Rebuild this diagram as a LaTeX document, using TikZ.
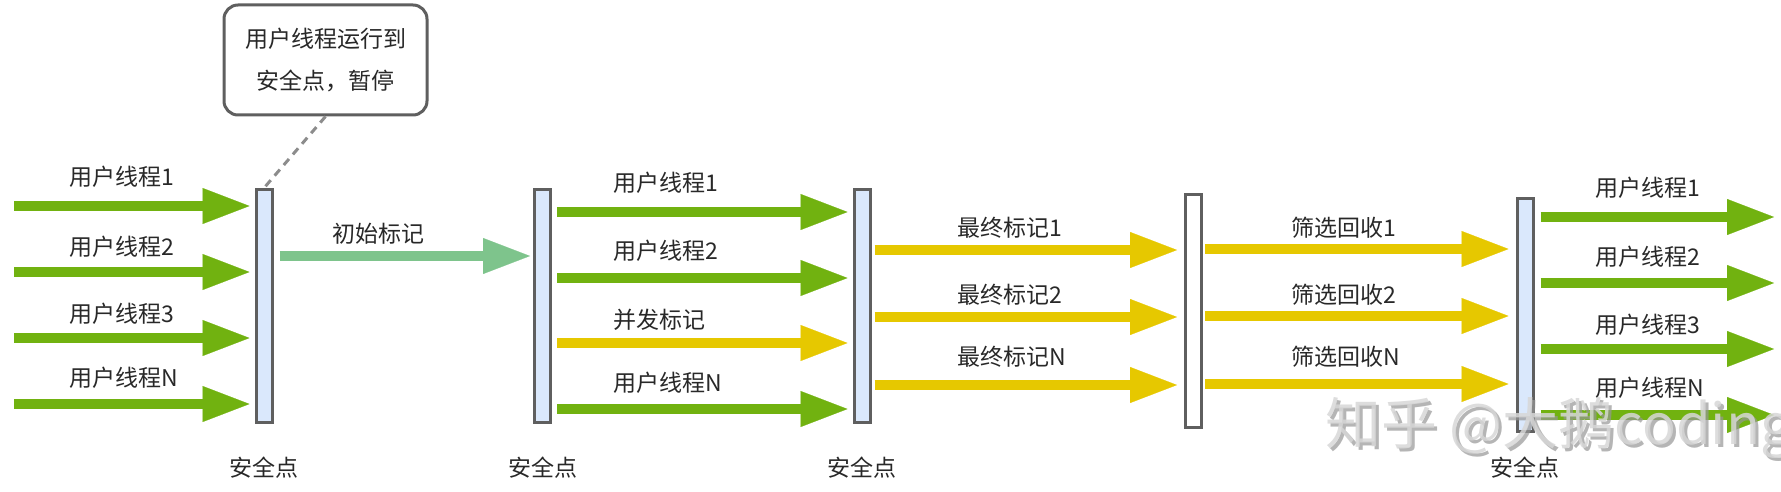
\documentclass[tikz,border=0pt]{standalone}
\usepackage{fontspec}
\setmainfont{Noto Sans CJK SC}
\usetikzlibrary{arrows.meta}
\definecolor{tgreen}{RGB}{113,178,16}
\definecolor{tlgreen}{RGB}{126,196,140}
\definecolor{tyellow}{RGB}{230,200,0}
\definecolor{barfill}{RGB}{218,232,252}
\definecolor{barborder}{RGB}{95,95,95}
\definecolor{txt}{RGB}{40,40,40}
\definecolor{dashgray}{RGB}{140,140,140}
\definecolor{wmshadow}{RGB}{150,150,150}
\definecolor{wmfill}{RGB}{215,215,215}
\begin{document}
\begin{tikzpicture}[x=0.5pt,y=-0.5pt,
  bar/.style={draw=barborder,line width=1.5pt,fill=barfill,minimum width=8pt,minimum height=116.5pt,inner sep=0pt},
  whitebar/.style={bar,fill=white},
  lbl/.style={text=txt,font=\fontsize{11.5}{13}\selectfont,inner sep=0pt},
  fat/.style={line width=5pt,-{Triangle[length=23.5pt,width=18pt,line width=0.1pt]}},
  garrow/.style={fat,draw=tgreen},
  lgarrow/.style={fat,draw=tlgreen},
  yarrow/.style={fat,draw=tyellow},
  callout/.style={draw=barborder,line width=1.5pt,fill=white,rounded corners=7pt,minimum width=101.5pt,minimum height=55pt,inner sep=0pt,align=center,text=txt,font=\fontsize{11.5}{21}\selectfont},
  wm/.style={anchor=west,inner sep=0pt,font=\fontsize{28}{30}\selectfont}
]
\useasboundingbox (0,0) rectangle (1781,492);

% bars
\node[bar] (b1) at (264,306) {};
\node[bar] (b2) at (542.5,306) {};
\node[bar] (b3) at (862,306) {};
\node[whitebar] (b4) at (1193.5,311) {};
\node[bar] (b5) at (1525,314.5) {};

% callout
\node[callout] (co) at (325.5,60) {用户线程运行到\\安全点，暂停};
\draw[dashgray,line width=1.5pt,dash pattern=on 4pt off 3pt] (co.south) -- (b1.north);

% left group
\coordinate (l1) at (14,206);
\coordinate (l2) at (14,272);
\coordinate (l3) at (14,338);
\coordinate (l4) at (14,404);
\draw[garrow,shorten >=2.5pt] (l1) -- (b1.west |- l1);
\draw[garrow,shorten >=2.5pt] (l2) -- (b1.west |- l2);
\draw[garrow,shorten >=2.5pt] (l3) -- (b1.west |- l3);
\draw[garrow,shorten >=2.5pt] (l4) -- (b1.west |- l4);
\node[lbl,anchor=west] (tl1) at (69,177) {用户线程1};
\node[lbl,anchor=west] (tl2) at (69,247) {用户线程2};
\node[lbl,anchor=west] (tl3) at (69,314) {用户线程3};
\node[lbl,anchor=west] (tl4) at (69,378) {用户线程N};

% initial mark
\coordinate (i1) at (280,256);
\draw[lgarrow,shorten >=1.5pt,shorten <=3pt] (b1.east |- i1) -- (b2.west |- i1);
\node[lbl] (ti1) at (378,234) {初始标记};

% middle group
\coordinate (m1) at (557,212);
\coordinate (m2) at (557,278);
\coordinate (m3) at (557,343);
\coordinate (m4) at (557,409);
\draw[garrow,shorten >=2.5pt,shorten <=2.5pt] (b2.east |- m1) -- (b3.west |- m1);
\draw[garrow,shorten >=2.5pt,shorten <=2.5pt] (b2.east |- m2) -- (b3.west |- m2);
\draw[yarrow,shorten >=2.5pt,shorten <=2.5pt] (b2.east |- m3) -- (b3.west |- m3);
\draw[garrow,shorten >=2.5pt,shorten <=2.5pt] (b2.east |- m4) -- (b3.west |- m4);
\node[lbl,anchor=west] (tm1) at (613,183) {用户线程1};
\node[lbl,anchor=west] (tm2) at (613,251) {用户线程2};
\node[lbl,anchor=west] (tm3) at (613,320) {并发标记};
\node[lbl,anchor=west] (tm4) at (613,383) {用户线程N};

% final mark
\coordinate (f1) at (876,250);
\coordinate (f2) at (876,317);
\coordinate (f3) at (876,385);
\draw[yarrow,shorten >=3.5pt,shorten <=1.5pt] (b3.east |- f1) -- (b4.west |- f1);
\draw[yarrow,shorten >=3.5pt,shorten <=1.5pt] (b3.east |- f2) -- (b4.west |- f2);
\draw[yarrow,shorten >=3.5pt,shorten <=1.5pt] (b3.east |- f3) -- (b4.west |- f3);
\node[lbl,anchor=west] (tf1) at (957,228) {最终标记1};
\node[lbl,anchor=west] (tf2) at (957,295) {最终标记2};
\node[lbl,anchor=west] (tf3) at (957,357) {最终标记N};

% cleanup
\coordinate (c1) at (1206,249);
\coordinate (c2) at (1206,316);
\coordinate (c3) at (1206,384);
\draw[yarrow,shorten >=3.5pt,shorten <=1pt] (b4.east |- c1) -- (b5.west |- c1);
\draw[yarrow,shorten >=3.5pt,shorten <=1pt] (b4.east |- c2) -- (b5.west |- c2);
\draw[yarrow,shorten >=3.5pt,shorten <=1pt] (b4.east |- c3) -- (b5.west |- c3);
\node[lbl,anchor=west] (tc1) at (1291,228) {筛选回收1};
\node[lbl,anchor=west] (tc2) at (1291,295) {筛选回收2};
\node[lbl,anchor=west] (tc3) at (1291,357) {筛选回收N};

% right group
\coordinate (r1) at (1774,217);
\coordinate (r2) at (1774,283);
\coordinate (r3) at (1774,349);
\coordinate (r4) at (1774,415);
\draw[garrow,shorten <=3pt] (b5.east |- r1) -- (r1);
\draw[garrow,shorten <=3pt] (b5.east |- r2) -- (r2);
\draw[garrow,shorten <=3pt] (b5.east |- r3) -- (r3);
\draw[garrow,shorten <=3pt] (b5.east |- r4) -- (r4);
\node[lbl,anchor=west] (tr1) at (1595,188) {用户线程1};
\node[lbl,anchor=west] (tr2) at (1595,257) {用户线程2};
\node[lbl,anchor=west] (tr3) at (1595,325) {用户线程3};
\node[lbl,anchor=west] (tr4) at (1595,388) {用户线程N};

% safe point labels
\node[lbl] (s1) at (264,468) {安全点};
\node[lbl] (s2) at (542.5,468) {安全点};
\node[lbl] (s3) at (862,468) {安全点};
\node[lbl] (s5) at (1525,468) {安全点};

% watermark
\node[wm,text=wmshadow,opacity=0.7] (wm0) at (1328,431) {知乎 @大鹅coding};
\node[wm,text=wmfill,opacity=0.85] (wm1) at (1325,428) {知乎 @大鹅coding};
\end{tikzpicture}
\end{document}
